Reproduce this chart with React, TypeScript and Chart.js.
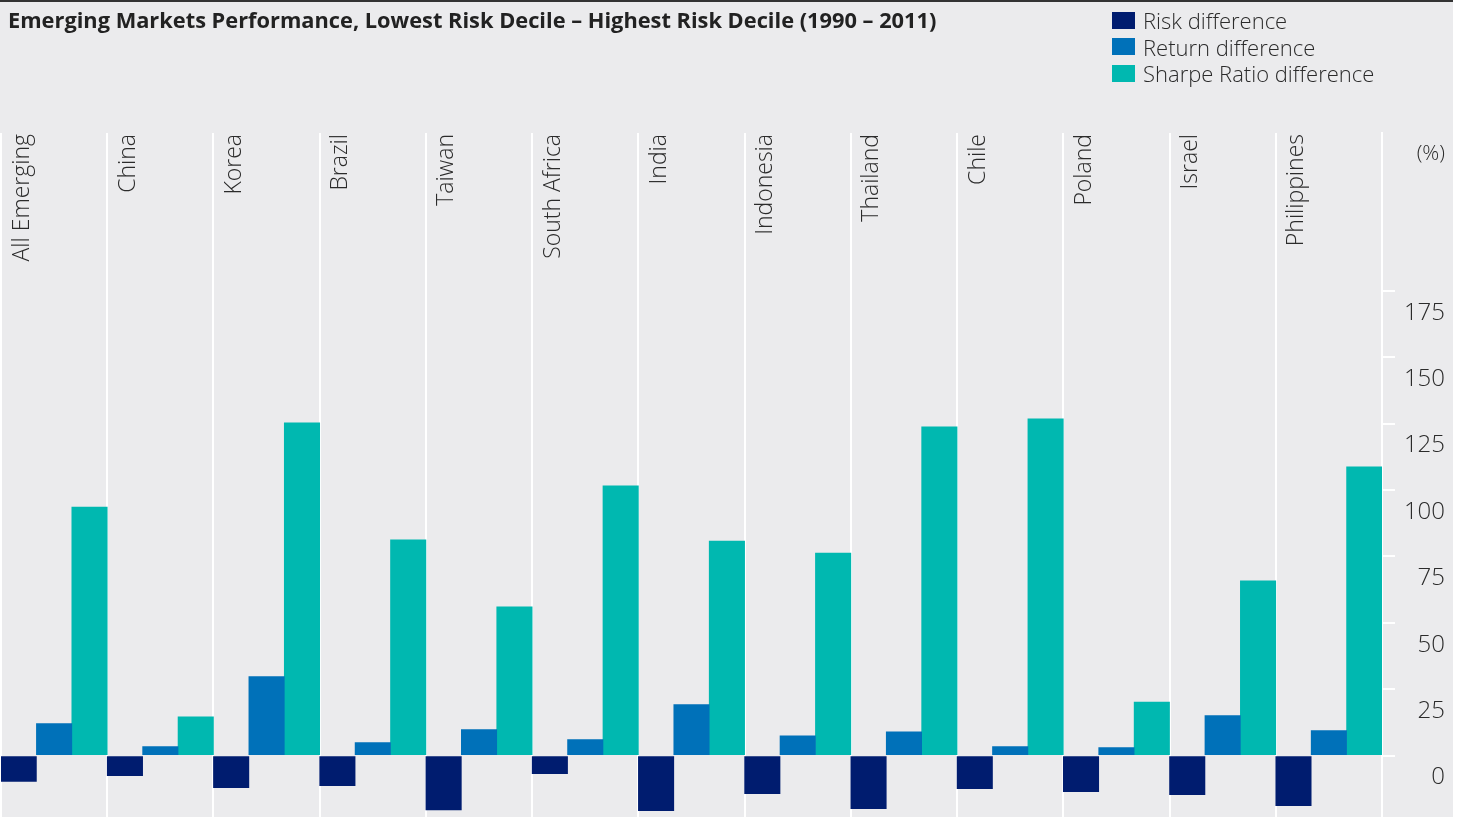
import React, { useEffect, useRef } from "react";
import { Chart, registerables } from "chart.js";

Chart.register(...registerables);

const categories = [
  "All Emerging", "China", "Korea", "Brazil", "Taiwan", "South Africa", "India",
  "Indonesia", "Thailand", "Chile", "Poland", "Israel", "Philippines",
];
const riskDiff = [-9.7, -7.5, -12.1, -11.3, -20.4, -6.8, -20.7, -14.3, -20.0, -12.4, -13.6, -14.7, -18.8];
const returnDiff = [12.1, 3.4, 29.8, 4.9, 9.8, 6.0, 19.2, 7.5, 9.0, 3.4, 3.0, 15.1, 9.4];
const sharpeDiff = [93.6, 14.6, 125.3, 81.2, 56.0, 101.6, 80.8, 76.3, 123.8, 126.8, 20.2, 65.8, 108.7];
const yTicks = [0, 25, 50, 75, 100, 125, 150, 175];
const seriesNames = ["Risk difference", "Return difference", "Sharpe Ratio difference"];
const seriesColors = ["#001c6f", "#0071b9", "#00b8b0"];
const titleText = "Emerging Markets Performance, Lowest Risk Decile – Highest Risk Decile (1990 – 2011)";
const unitLabel = "(%)";

const BG = "#ebebed";
const TEXT = "#2b2b2b";
const FONT = '"Open Sans", "DejaVu Sans", sans-serif';

const labelPlugin = {
  id: "catLabels",
  afterDraw(chart: any) {
    const { ctx, chartArea, scales } = chart;
    const x = scales.x;
    const step = (chartArea.right - chartArea.left) / categories.length;
    ctx.save();
    ctx.fillStyle = TEXT;
    ctx.font = `300 23px ${FONT}`;
    ctx.textAlign = "right";
    ctx.textBaseline = "middle";
    categories.forEach((c, i) => {
      const left = x.getPixelForValue(i) - step / 2;
      ctx.save();
      ctx.translate(left + 21, chartArea.top + 1);
      ctx.rotate(-Math.PI / 2);
      ctx.fillText(c, 0, 0);
      ctx.restore();
    });
    ctx.textAlign = "right";
    ctx.font = `300 21px ${FONT}`;
    ctx.fillText(unitLabel, scales.y.right, chartArea.top + 21);
    ctx.restore();
  },
};

export default function App() {
  const ref = useRef<HTMLCanvasElement | null>(null);

  useEffect(() => {
    document.body.style.margin = "0";
    const canvas = ref.current;
    if (!canvas) return;
    const datasets = [riskDiff, returnDiff, sharpeDiff].map((d, i) => ({
      label: seriesNames[i],
      data: d,
      backgroundColor: seriesColors[i],
      borderWidth: 0,
      barPercentage: 1,
      categoryPercentage: 1,
    }));
    const chart = new Chart(canvas, {
      type: "bar",
      data: { labels: categories, datasets },
      plugins: [labelPlugin],
      options: {
        responsive: false,
        animation: false,
        layout: { padding: { top: 133, left: 1, right: 8, bottom: 0 } },
        plugins: {
          legend: { display: false },
          title: { display: false },
          tooltip: { enabled: false },
        },
        scales: {
          x: {
            offset: true,
            afterFit: (scale: any) => {
              scale.height = 0;
              scale.paddingLeft = 0;
              scale.paddingRight = 0;
            },
            grid: {
              offset: true,
              color: "#ffffff",
              lineWidth: 2,
              drawTicks: false,
            },
            border: { display: false },
            ticks: { display: false },
          },
          y: {
            position: "right",
            min: -23.1,
            max: 234.4,
            afterBuildTicks: (scale: any) => {
              scale.ticks = yTicks.map((v) => ({ value: v }));
            },
            afterFit: (scale: any) => {
              scale.width = 63;
              scale.paddingTop = 0;
              scale.paddingBottom = 0;
            },
            grid: {
              drawOnChartArea: false,
              drawTicks: true,
              tickLength: 13,
              color: "#ffffff",
              lineWidth: 2,
            },
            border: { display: true, color: "#ffffff", width: 2 },
            ticks: {
              color: TEXT,
              font: { family: FONT, size: 24, weight: "300" as any },
              crossAlign: "far",
              padding: 10,
              labelOffset: 22,
            },
          },
        },
      },
    });
    return () => chart.destroy();
  }, []);

  return (
    <div
      style={{
        position: "fixed",
        left: 0,
        top: 0,
        width: 1453,
        height: 817,
        background: BG,
        overflow: "hidden",
      }}
    >
      <div style={{ position: "absolute", left: 0, top: 0, width: 1453, height: 2, background: "#333" }} />
      <canvas ref={ref} width={1453} height={817} style={{ position: "absolute", left: 0, top: 0, display: "block" }} />
      <div
        style={{
          position: "absolute",
          left: 8,
          top: 7,
          lineHeight: "26px",
          fontFamily: FONT,
          fontWeight: 700,
          fontSize: 21.8,
          color: "#222",
          whiteSpace: "nowrap",
        }}
      >
        {titleText}
      </div>
      <div style={{ position: "absolute", left: 1112, top: 7, fontFamily: FONT, fontSize: 22, color: TEXT }}>
        {seriesNames.map((n, i) => (
          <div key={n} style={{ display: "flex", alignItems: "center", height: 26.5 }}>
            <span style={{ display: "inline-block", width: 23, height: 17, background: seriesColors[i], marginRight: 8 }} />
            <span style={{ fontWeight: 300, lineHeight: "26px" }}>{n}</span>
          </div>
        ))}
      </div>
    </div>
  );
}
